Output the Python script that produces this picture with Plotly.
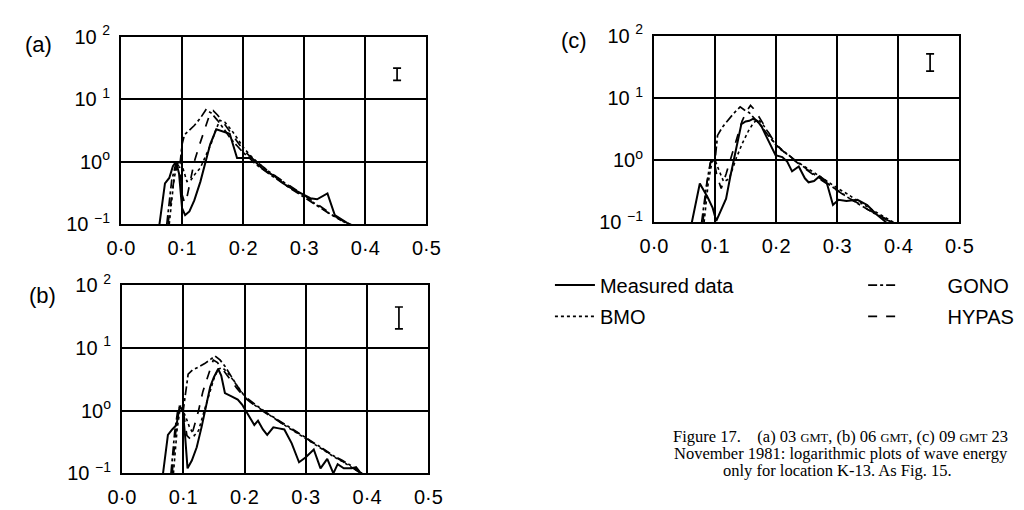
import plotly.graph_objects as go

W, H = 1024, 510

# ---- axis ticks ---------------------------------------------------------
FREQ_TICKS = [0.0, 0.1, 0.2, 0.3, 0.4, 0.5]
FREQ_LABELS = ["0·0", "0·1", "0·2", "0·3", "0·4", "0·5"]
ENERGY_TICKS = [0.1, 1, 10, 100]
ENERGY_LABELS = ["10 <sup>−1</sup>", "10<sup>o</sup>", "10 <sup>1</sup>", "10 <sup>2</sup>"]

# ---- (a) 03 GMT -----------------------------------------------------------
a_meas_f = [0.063, 0.072, 0.079, 0.085, 0.090, 0.095, 0.100, 0.105, 0.112, 0.120, 0.130, 0.138,
            0.146, 0.156, 0.166, 0.178, 0.190, 0.200, 0.214, 0.222, 0.230, 0.240, 0.250, 0.260,
            0.270, 0.280, 0.290, 0.300, 0.310, 0.321, 0.338, 0.350, 0.360, 0.370, 0.380]
a_meas_e = [0.10, 0.45, 0.55, 0.85, 1.00, 0.65, 0.18, 0.14, 0.16, 0.24, 0.48, 0.95,
            1.90, 3.30, 3.10, 2.80, 1.15, 1.15, 1.15, 0.95, 0.80, 0.68, 0.60, 0.50,
            0.42, 0.37, 0.33, 0.29, 0.26, 0.25, 0.31, 0.14, 0.12, 0.105, 0.095]
a_gono_f = [0.075, 0.083, 0.090, 0.096, 0.100, 0.104, 0.112, 0.120, 0.130, 0.139, 0.148, 0.158,
            0.170, 0.180, 0.190, 0.200, 0.210, 0.220, 0.235, 0.250, 0.265, 0.280, 0.295, 0.310,
            0.325, 0.340, 0.355, 0.368, 0.378]
a_gono_e = [0.10, 0.50, 0.95, 0.80, 1.90, 2.70, 3.20, 3.80, 5.00, 6.80, 6.00, 4.60,
            3.20, 2.30, 1.80, 1.40, 1.15, 0.92, 0.72, 0.56, 0.45, 0.36, 0.29, 0.23,
            0.19, 0.15, 0.125, 0.105, 0.095]
a_bmo_f = [0.079, 0.087, 0.093, 0.098, 0.102, 0.108, 0.114, 0.122, 0.130, 0.140, 0.148, 0.155,
           0.162, 0.170, 0.180, 0.190, 0.200, 0.212, 0.225, 0.240, 0.255, 0.270, 0.285, 0.300,
           0.315, 0.330, 0.345, 0.360, 0.372]
a_bmo_e = [0.10, 0.55, 0.95, 1.00, 0.75, 0.48, 0.50, 0.65, 0.80, 1.30, 2.00, 3.20,
           4.60, 4.30, 3.30, 2.40, 1.70, 1.25, 0.95, 0.72, 0.56, 0.44, 0.35, 0.28,
           0.22, 0.175, 0.14, 0.115, 0.10]
a_hypas_f = [0.077, 0.085, 0.091, 0.096, 0.100, 0.104, 0.108, 0.114, 0.120, 0.128, 0.136, 0.146,
             0.151, 0.158, 0.168, 0.180, 0.190, 0.200, 0.212, 0.225, 0.240, 0.255, 0.270, 0.285,
             0.300, 0.315, 0.330, 0.345, 0.360, 0.375]
a_hypas_e = [0.10, 0.40, 0.90, 0.85, 0.30, 0.22, 0.27, 0.50, 1.00, 1.80, 3.20, 6.00,
             6.60, 5.60, 4.20, 2.90, 2.10, 1.55, 1.20, 0.95, 0.72, 0.57, 0.45, 0.36,
             0.29, 0.23, 0.18, 0.145, 0.115, 0.095]

# ---- (b) 06 GMT -----------------------------------------------------------
b_meas_f = [0.067, 0.075, 0.082, 0.089, 0.094, 0.099, 0.103, 0.107, 0.114, 0.122, 0.130, 0.136,
            0.144, 0.150, 0.157, 0.162, 0.168, 0.178, 0.189, 0.196, 0.202, 0.210, 0.216, 0.222,
            0.230, 0.237, 0.247, 0.256, 0.265, 0.277, 0.289, 0.300, 0.313, 0.324, 0.335, 0.345,
            0.352, 0.362, 0.375, 0.382, 0.390]
b_meas_e = [0.10, 0.41, 0.50, 0.59, 1.15, 1.05, 0.40, 0.12, 0.16, 0.26, 0.55, 1.07,
            2.40, 3.40, 4.60, 3.60, 1.90, 1.70, 1.50, 1.25, 1.00, 0.75, 0.59, 0.69,
            0.50, 0.41, 0.54, 0.52, 0.50, 0.30, 0.15, 0.18, 0.24, 0.12, 0.17, 0.10,
            0.14, 0.12, 0.12, 0.125, 0.10]
b_gono_f = [0.080, 0.086, 0.091, 0.096, 0.100, 0.104, 0.108, 0.115, 0.125, 0.135, 0.145, 0.152,
            0.160, 0.168, 0.180, 0.194, 0.205, 0.215, 0.225, 0.240, 0.255, 0.270, 0.285, 0.300,
            0.315, 0.330, 0.345, 0.360, 0.375, 0.388]
b_gono_e = [0.10, 0.45, 1.00, 1.20, 1.00, 2.20, 3.80, 4.40, 5.00, 5.60, 6.60, 7.40,
            6.40, 5.10, 3.30, 2.00, 1.55, 1.30, 1.10, 0.87, 0.71, 0.57, 0.46, 0.37,
            0.30, 0.24, 0.19, 0.16, 0.13, 0.105]
b_bmo_f = [0.084, 0.090, 0.095, 0.099, 0.104, 0.110, 0.118, 0.125, 0.133, 0.142, 0.150, 0.157,
           0.164, 0.172, 0.182, 0.192, 0.203, 0.215, 0.228, 0.242, 0.257, 0.272, 0.287, 0.302,
           0.317, 0.332, 0.347, 0.362, 0.377, 0.392]
b_bmo_e = [0.10, 0.50, 1.10, 1.00, 0.80, 0.55, 0.40, 0.48, 0.90, 1.80, 3.20, 4.60,
           4.80, 4.10, 3.00, 2.10, 1.55, 1.25, 1.02, 0.82, 0.67, 0.53, 0.43, 0.35,
           0.28, 0.225, 0.18, 0.15, 0.12, 0.10]
b_hypas_f = [0.082, 0.087, 0.092, 0.097, 0.101, 0.106, 0.112, 0.118, 0.125, 0.132, 0.140, 0.149,
             0.156, 0.165, 0.175, 0.187, 0.200, 0.212, 0.225, 0.240, 0.255, 0.270, 0.285, 0.300,
             0.315, 0.330, 0.345, 0.360, 0.375, 0.390]
b_hypas_e = [0.10, 0.40, 0.90, 1.10, 0.85, 0.40, 0.35, 0.55, 1.00, 2.00, 3.60, 6.40,
             5.80, 4.40, 3.30, 2.30, 1.60, 1.30, 1.05, 0.84, 0.69, 0.55, 0.45, 0.36,
             0.29, 0.235, 0.19, 0.155, 0.125, 0.10]

# ---- (c) 09 GMT -----------------------------------------------------------
c_meas_f = [0.062, 0.075, 0.088, 0.096, 0.102, 0.110, 0.118, 0.125, 0.131, 0.137, 0.143, 0.150,
            0.156, 0.162, 0.169, 0.176, 0.183, 0.191, 0.199, 0.210, 0.218, 0.226, 0.237, 0.247,
            0.253, 0.262, 0.271, 0.282, 0.293, 0.302, 0.315, 0.333, 0.349, 0.364, 0.380]
c_meas_e = [0.10, 0.42, 0.25, 0.17, 0.105, 0.16, 0.24, 0.55, 1.12, 2.00, 3.80, 4.20,
            4.30, 4.60, 4.30, 3.50, 2.50, 1.70, 1.20, 1.12, 0.95, 0.66, 0.79, 0.51,
            0.44, 0.46, 0.55, 0.46, 0.19, 0.23, 0.22, 0.23, 0.19, 0.135, 0.10]
c_gono_f = [0.078, 0.086, 0.092, 0.097, 0.100, 0.104, 0.112, 0.120, 0.130, 0.141, 0.148, 0.156,
            0.165, 0.175, 0.187, 0.200, 0.212, 0.225, 0.240, 0.255, 0.270, 0.285, 0.300, 0.315,
            0.330, 0.345, 0.360, 0.375, 0.390, 0.398]
c_gono_e = [0.10, 0.40, 0.90, 1.05, 1.00, 2.50, 3.40, 4.30, 5.60, 7.20, 6.40, 5.80,
            4.70, 3.60, 2.50, 1.75, 1.40, 1.10, 0.85, 0.66, 0.52, 0.41, 0.32, 0.26,
            0.21, 0.17, 0.14, 0.12, 0.10, 0.095]
c_bmo_f = [0.082, 0.089, 0.095, 0.100, 0.106, 0.114, 0.123, 0.135, 0.145, 0.155, 0.163, 0.170,
           0.178, 0.186, 0.194, 0.203, 0.215, 0.228, 0.243, 0.258, 0.273, 0.288, 0.303, 0.318,
           0.333, 0.348, 0.363, 0.378, 0.392, 0.400]
c_bmo_e = [0.10, 0.45, 0.95, 1.00, 0.70, 0.45, 0.50, 1.10, 1.90, 3.00, 4.00, 4.50,
           3.80, 2.90, 2.10, 1.60, 1.30, 1.05, 0.83, 0.67, 0.53, 0.43, 0.34, 0.28,
           0.22, 0.18, 0.145, 0.12, 0.10, 0.09]
c_hypas_f = [0.080, 0.087, 0.093, 0.098, 0.103, 0.110, 0.118, 0.128, 0.136, 0.144, 0.151, 0.158,
             0.165, 0.173, 0.183, 0.194, 0.205, 0.218, 0.232, 0.246, 0.260, 0.275, 0.290, 0.305,
             0.320, 0.335, 0.350, 0.365, 0.380, 0.395]
c_hypas_e = [0.10, 0.45, 0.95, 1.05, 0.55, 0.35, 0.60, 1.25, 2.40, 4.20, 6.00, 7.60,
             6.40, 4.80, 3.30, 2.20, 1.60, 1.20, 0.95, 0.74, 0.59, 0.47, 0.37, 0.30,
             0.24, 0.20, 0.16, 0.135, 0.11, 0.095]

# ---- confidence-interval bar ("I") per panel -------------------------------
IBAR_FREQ = 0.452
IBAR_LOW = [20.0, 20.0, 27.0]
IBAR_HIGH = [31.6, 44.7, 51.3]

PANEL_LABELS = ["(a)", "(b)", "(c)"]
SERIES_NAMES = ["Measured data", "GONO", "BMO", "HYPAS"]

PANEL_DATA = [
    [(a_meas_f, a_meas_e), (a_gono_f, a_gono_e), (a_bmo_f, a_bmo_e), (a_hypas_f, a_hypas_e)],
    [(b_meas_f, b_meas_e), (b_gono_f, b_gono_e), (b_bmo_f, b_bmo_e), (b_hypas_f, b_hypas_e)],
    [(c_meas_f, c_meas_e), (c_gono_f, c_gono_e), (c_bmo_f, c_bmo_e), (c_hypas_f, c_hypas_e)],
]

# ---- styling ----------------------------------------------------------------
SANS = "Liberation Sans, Arial, Helvetica, sans-serif"
SERIF = "Liberation Serif, Times New Roman, serif"
LINE_STYLE = {
    "Measured data": dict(dash="solid", width=2.0),
    "GONO": dict(dash="dashdot", width=1.7),
    "BMO": dict(dash="dot", width=1.6),
    "HYPAS": dict(dash="dash", width=1.7),
}
LEGEND_ID = {"Measured data": "legend", "GONO": "legend2", "BMO": "legend3", "HYPAS": "legend4"}
# second legend column keeps a wider gap between the line sample and its text
PAD = "\u00a0" * 8
LEGEND_TEXT = {"Measured data": "Measured data", "GONO": PAD + "GONO",
               "BMO": "BMO", "HYPAS": PAD + "HYPAS"}

# plot-area boxes in pixels: (left, right, top, bottom)
BOXES = [(110, 424, 24, 221), (111, 426, 285, 483), (658, 972, 23, 219)]
LABEL_POS = [(25, 32), (29, 296), (576, 28)]

fig = go.Figure()

for k, series in enumerate(PANEL_DATA):
    xa = "x" if k == 0 else f"x{k + 1}"
    ya = "y" if k == 0 else f"y{k + 1}"
    for name, (f, e) in zip(SERIES_NAMES, series):
        fig.add_trace(go.Scatter(
            x=f, y=e, mode="lines", name=LEGEND_TEXT[name],
            line=dict(color="black", **LINE_STYLE[name]),
            xaxis=xa, yaxis=ya,
            showlegend=(k == 0), legend=LEGEND_ID[name],
            hoverinfo="skip",
        ))
    lo, hi = IBAR_LOW[k], IBAR_HIGH[k]
    mid = (lo * hi) ** 0.5
    fig.add_trace(go.Scatter(
        x=[IBAR_FREQ], y=[mid], mode="markers",
        marker=dict(size=1, color="rgba(0,0,0,0)"),
        error_y=dict(type="data", symmetric=False, array=[hi - mid], arrayminus=[mid - lo],
                     color="black", thickness=1.7, width=4),
        xaxis=xa, yaxis=ya, showlegend=False, hoverinfo="skip",
    ))

layout_axes = {}
for k, (l, r, t, b) in enumerate(BOXES):
    sx = "xaxis" if k == 0 else f"xaxis{k + 1}"
    sy = "yaxis" if k == 0 else f"yaxis{k + 1}"
    xa = "x" if k == 0 else f"x{k + 1}"
    ya = "y" if k == 0 else f"y{k + 1}"
    common = dict(showline=True, mirror=True, linecolor="black", linewidth=2,
                  showgrid=True, gridcolor="black", gridwidth=1.8, zeroline=False,
                  ticks="", tickfont=dict(family=SANS, size=20, color="black"),
                  tickmode="array", ticklabelstandoff=5)
    layout_axes[sx] = dict(common, domain=[l / W, r / W], range=[0, 0.5],
                           tickvals=FREQ_TICKS, ticktext=FREQ_LABELS, anchor=ya)
    layout_axes[sy] = dict(common, domain=[1 - b / H, 1 - t / H], type="log", range=[-1, 2],
                           tickvals=ENERGY_TICKS, ticktext=ENERGY_LABELS, anchor=xa)

annotations = []
for lab, (px, py) in zip(PANEL_LABELS, LABEL_POS):
    annotations.append(dict(text=lab, x=px / W, y=1 - py / H, xref="paper", yref="paper",
                            showarrow=False, xanchor="center", yanchor="middle",
                            font=dict(family=SANS, size=22, color="black")))

sc = "<span style='font-size:12.5px'>GMT</span>"
caption = [
    (f"Figure 17.&nbsp;&nbsp;&nbsp; (a) 03&nbsp;{sc}, (b) 06&nbsp;{sc}, (c) 09&nbsp;{sc} 23", 1024, 444, "right"),
    ("November 1981: logarithmic plots of wave energy", 1024, 462, "right"),
    ("only for location K-13. As Fig. 15.", 847, 480, "center"),
]
for txt, px, py, anc in caption:
    annotations.append(dict(text=txt, x=px / W, y=1 - py / H, xref="paper", yref="paper",
                            showarrow=False, xanchor=anc, yanchor="middle",
                            font=dict(family=SERIF, size=16.5, color="black")))

legend_common = dict(bgcolor="rgba(0,0,0,0)", borderwidth=0, xanchor="left", yanchor="middle",
                     font=dict(family=SANS, size=20, color="black"), tracegroupgap=0)

fig.update_layout(
    width=W, height=H,
    margin=dict(l=0, r=0, t=0, b=0),
    paper_bgcolor="white", plot_bgcolor="white",
    annotations=annotations,
    legend=dict(legend_common, x=551 / W, y=1 - 285 / H, itemwidth=40),
    legend2=dict(legend_common, x=873 / W, y=1 - 285 / H, itemwidth=30),
    legend3=dict(legend_common, x=551 / W, y=1 - 318 / H, itemwidth=40),
    legend4=dict(legend_common, x=873 / W, y=1 - 318 / H, itemwidth=30),
    **layout_axes,
)

fig.write_html("out.html")
